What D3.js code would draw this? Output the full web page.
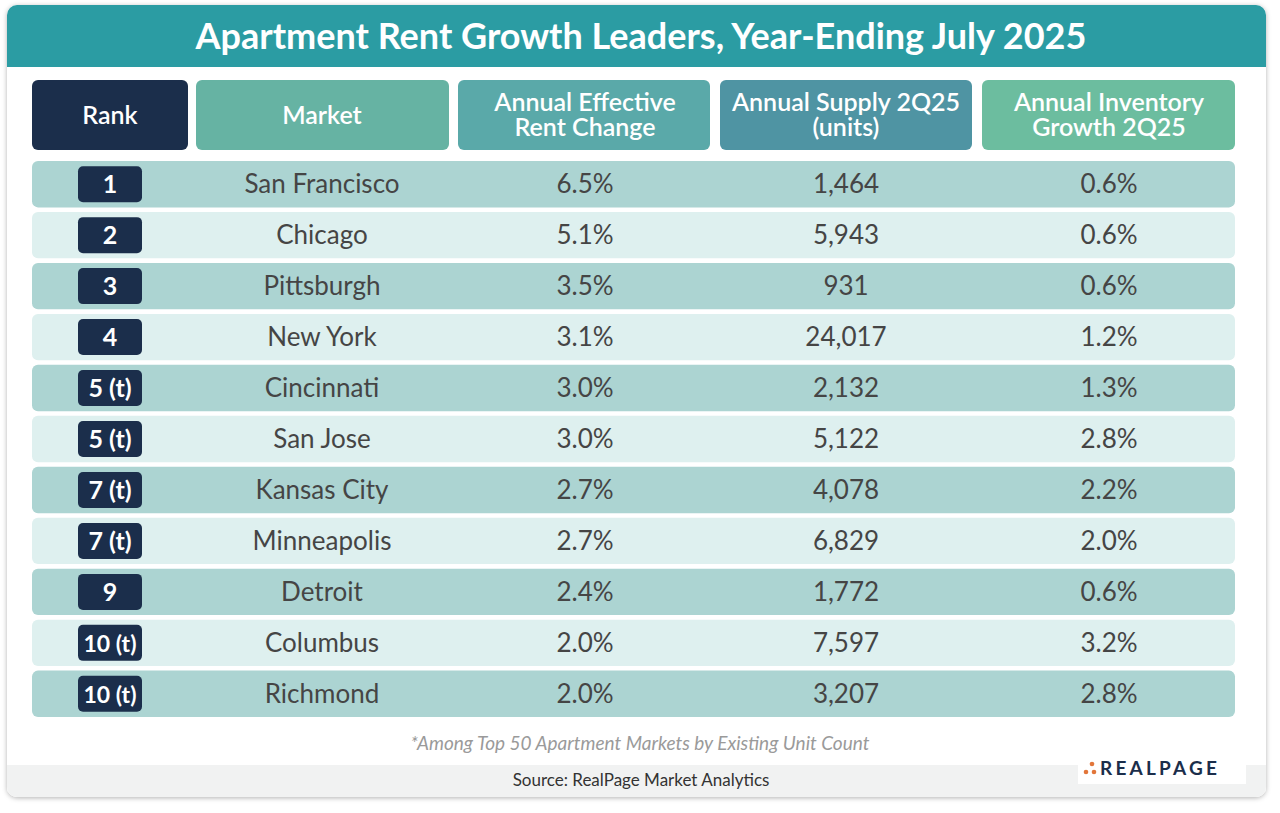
<!DOCTYPE html>
<html><head><meta charset="utf-8">
<script src="https://cdn.jsdelivr.net/npm/d3@7"></script>
<style>body{margin:0;background:#fff;font-family:Lato,"Open Sans",sans-serif}</style>
</head><body><div id="chart"></div>
<script>
const ranks = ["1","2","3","4","5 (t)","5 (t)","7 (t)","7 (t)","9","10 (t)","10 (t)"];
const markets = ["San Francisco","Chicago","Pittsburgh","New York","Cincinnati","San Jose","Kansas City","Minneapolis","Detroit","Columbus","Richmond"];
const rentChange = [6.5,5.1,3.5,3.1,3.0,3.0,2.7,2.7,2.4,2.0,2.0];
const supply = [1464,5943,931,24017,2132,5122,4078,6829,1772,7597,3207];
const invGrowth = [0.6,0.6,0.6,1.2,1.3,2.8,2.2,2.0,0.6,3.2,2.8];
const headers = [["Rank"],["Market"],["Annual Effective","Rent Change"],["Annual Supply 2Q25","(units)"],["Annual Inventory","Growth 2Q25"]];

const W = 1280, H = 813;
const svg = d3.select("#chart").append("svg").attr("width", W).attr("height", H);
const defs = svg.append("defs");
const f = defs.append("filter").attr("id","sh").attr("x","-5%").attr("y","-5%").attr("width","110%").attr("height","110%");
f.append("feDropShadow").attr("dx",0).attr("dy",1).attr("stdDeviation",2.5).attr("flood-color","#000").attr("flood-opacity",0.3);
const clip = defs.append("clipPath").attr("id","cardclip");
clip.append("rect").attr("x",7).attr("y",5).attr("width",1259).attr("height",792).attr("rx",10);

svg.append("rect").attr("x",7).attr("y",5).attr("width",1259).attr("height",792).attr("rx",10)
  .attr("fill","#fff").attr("filter","url(#sh)");
const card = svg.append("g").attr("clip-path","url(#cardclip)");
card.append("rect").attr("x",7).attr("y",5).attr("width",1259).attr("height",62).attr("fill","#2b9ca3");
card.append("rect").attr("x",7).attr("y",765).attr("width",1259).attr("height",32).attr("fill","#f1f2f2");

svg.append("text").attr("x",641).attr("y",49).attr("text-anchor","middle")
  .attr("fill","#fff").attr("font-size",36).attr("font-weight",700).text("Apartment Rent Growth Leaders, Year-Ending July 2025");

// columns
const colX = [32,196,458,720,982];
const colW = [156,253,252,252,253];
const colCenter = [110,322,585,846,1109];
const hdrColors = ["#1b2e4b","#66b3a3","#5aa9a9","#4f94a3","#6cbd9f"];
headers.forEach((h,i)=>{
  svg.append("rect").attr("x",colX[i]).attr("y",80).attr("width",colW[i]).attr("height",70).attr("rx",6).attr("fill",hdrColors[i]);
  const t = svg.append("text").attr("text-anchor","middle").attr("fill","#fff").attr("font-size",h.length===1?25:25).attr("font-weight",600);
  const y0 = h.length===1 ? 124 : 111;
  h.forEach((line,k)=>t.append("tspan").attr("x",colCenter[i]).attr("y",y0+k*25).text(line));
});

const y = d3.scaleBand().domain(d3.range(markets.length)).range([161,717]).paddingInner(0.09);
const fmtPct = d => d3.format(".1f")(d)+"%";
const rows = svg.selectAll("g.row").data(markets).join("g").attr("class","row")
  .attr("transform",(d,i)=>`translate(0,${y(i)})`);
const bh = y.bandwidth();
rows.append("rect").attr("x",32).attr("width",1203).attr("height",bh).attr("rx",6)
  .attr("fill",(d,i)=> i%2===0 ? "#acd4d2" : "#def0ef");
rows.append("rect").attr("x",78).attr("y",(bh-36)/2).attr("width",64).attr("height",36).attr("rx",5).attr("fill","#1b2e4b");
rows.append("text").attr("x",110).attr("y",bh/2+9).attr("text-anchor","middle").attr("fill","#fff")
  .attr("font-size",(d,i)=>ranks[i].length>5?23:25).attr("font-weight",700).text((d,i)=>ranks[i]);
const cells = [(d,i)=>markets[i],(d,i)=>fmtPct(rentChange[i]),(d,i)=>d3.format(",")(supply[i]),(d,i)=>fmtPct(invGrowth[i])];
cells.forEach((fn,c)=>{
  rows.append("text").attr("x",colCenter[c+1]).attr("y",bh/2+9).attr("text-anchor","middle")
    .attr("fill","#454545").attr("font-size",26).text(fn);
});

svg.append("text").attr("x",640).attr("y",750).attr("text-anchor","middle").attr("fill","#9a9a9a")
  .attr("font-size",19).attr("font-style","italic").text("*Among Top 50 Apartment Markets by Existing Unit Count");
svg.append("text").attr("x",641).attr("y",786).attr("text-anchor","middle").attr("fill","#333")
  .attr("font-size",17).text("Source: RealPage Market Analytics");

// logo
const logo = svg.append("g");
logo.append("rect").attr("x",1078).attr("y",752).attr("width",168).attr("height",32).attr("fill","#fff");
[[1092,764],[1086,772],[1094,772]].forEach(p=>logo.append("circle").attr("cx",p[0]).attr("cy",p[1]).attr("r",2.3).attr("fill","#e2763a"));
logo.append("text").attr("x",1100).attr("y",775).attr("fill","#1b2e4b").attr("font-size",19).attr("font-weight",700)
  .attr("letter-spacing",3.2).text("REALPAGE");
</script></body></html>
